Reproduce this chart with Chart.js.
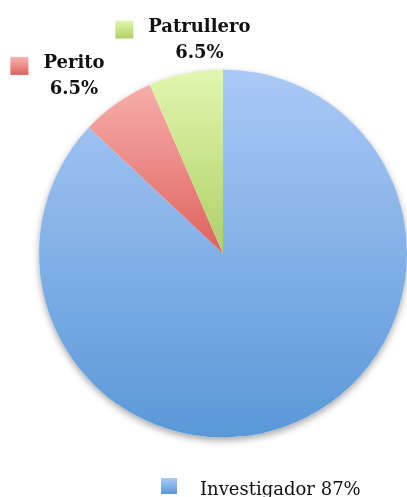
<!DOCTYPE html>
<html lang="es">
<head>
  <meta charset="UTF-8">
  <title>Distribución por cargo</title>
  <style>
    html, body { margin: 0; padding: 0; background: #fff; }
    .container { width: 407px; height: 497px; position: relative; }
  </style>
  <script src="https://cdn.jsdelivr.net/npm/chart.js@4.4.1/dist/chart.umd.min.js"></script>
</head>
<body>
  <div class="container">
    <canvas id="myChart" width="407" height="497"></canvas>
  </div>

  <script>
    // Datos
    const categorias = ['Investigador', 'Perito', 'Patrullero'];
    const porcentajes = [87, 6.5, 6.5];
    const etiquetas = ['87%', '6.5%', '6.5%'];

    // Colores de cada porción (arriba -> abajo del degradado)
    const coloresArriba = ['#aac9f6', '#f9b5b1', '#e2f6b0'];
    const coloresAbajo = ['#5a98d8', '#de625e', '#aed165'];

    // Posición de las etiquetas fuera del gráfico (índice -> ajuste)
    const ajusteEtiqueta = {
      1: { giro: -4.9, escala: 1.26 },
      2: { giro: 5.4, escala: 1.17 },
    };

    const serif = '"DejaVu Serif", serif';

    function degradado(ctx, y0, y1, i) {
      const g = ctx.createLinearGradient(0, y0, 0, y1);
      g.addColorStop(0, coloresArriba[i]);
      g.addColorStop(1, coloresAbajo[i]);
      return g;
    }

    // Sombra suave debajo del círculo
    const sombra = {
      id: 'sombra',
      beforeDatasetsDraw(chart) {
        const arc = chart.getDatasetMeta(0).data[0];
        if (!arc) return;
        const { ctx } = chart;
        ctx.save();
        ctx.shadowColor = 'rgba(0,0,0,0.35)';
        ctx.shadowBlur = 7;
        ctx.shadowOffsetY = 3;
        ctx.fillStyle = '#ffffff';
        ctx.beginPath();
        ctx.arc(arc.x, arc.y, arc.outerRadius, 0, Math.PI * 2);
        ctx.fill();
        ctx.restore();
      },
    };

    // Etiquetas de Perito y Patrullero + leyenda de Investigador
    const etiquetasPlugin = {
      id: 'etiquetas',
      afterDraw(chart) {
        const { ctx } = chart;
        const meta = chart.getDatasetMeta(0);
        ctx.save();
        ctx.fillStyle = '#111';
        ctx.font = 'bold 18px ' + serif;
        ctx.textBaseline = 'alphabetic';
        Object.keys(ajusteEtiqueta).forEach((k) => {
          const i = Number(k);
          const arc = meta.data[i];
          const aj = ajusteEtiqueta[i];
          const medio = (arc.startAngle + arc.endAngle) / 2 + aj.giro * Math.PI / 180;
          const dist = arc.outerRadius * aj.escala;
          const tx = arc.x + Math.cos(medio) * dist;
          const ty = arc.y + Math.sin(medio) * dist;
          const b1 = ty - 8;
          const b2 = ty + 18;
          ctx.textAlign = 'center';
          ctx.fillText(categorias[i], tx, b1);
          ctx.fillText(etiquetas[i], tx, b2);
          const w = ctx.measureText(categorias[i]).width;
          const sx = tx - w / 2 - 15 - 18;
          const sy = b1 - 11;
          ctx.fillStyle = degradado(ctx, sy, sy + 18, i);
          ctx.fillRect(sx, sy, 18, 18);
          ctx.fillStyle = '#111';
        });

        // Leyenda inferior
        const sx = 161, sy = 478;
        ctx.fillStyle = degradado(ctx, sy, sy + 16, 0);
        ctx.fillRect(sx, sy, 16, 16);
        ctx.fillStyle = '#111';
        ctx.font = '18px ' + serif;
        ctx.textAlign = 'left';
        ctx.fillText(categorias[0] + ' ' + etiquetas[0], 200, 495);
        ctx.restore();
      },
    };

    const ctx = document.getElementById('myChart').getContext('2d');

    const chart = new Chart(ctx, {
      type: 'pie',
      data: {
        labels: categorias,
        datasets: [{
          data: porcentajes,
          borderWidth: 0,
          backgroundColor: (c) => {
            const area = c.chart.chartArea;
            if (!area) return coloresArriba[c.dataIndex];
            const centro = (area.top + area.bottom) / 2;
            const fin = c.dataIndex === 0 ? area.bottom : centro;
            return degradado(c.chart.ctx, area.top, fin, c.dataIndex);
          },
        }],
      },
      options: {
        responsive: false,
        animation: false,
        layout: { padding: { left: 39, right: 0, top: 69, bottom: 59 } },
        plugins: {
          legend: { display: false },
          tooltip: { enabled: false },
        },
      },
      plugins: [sombra, etiquetasPlugin],
    });
  </script>
</body>
</html>
